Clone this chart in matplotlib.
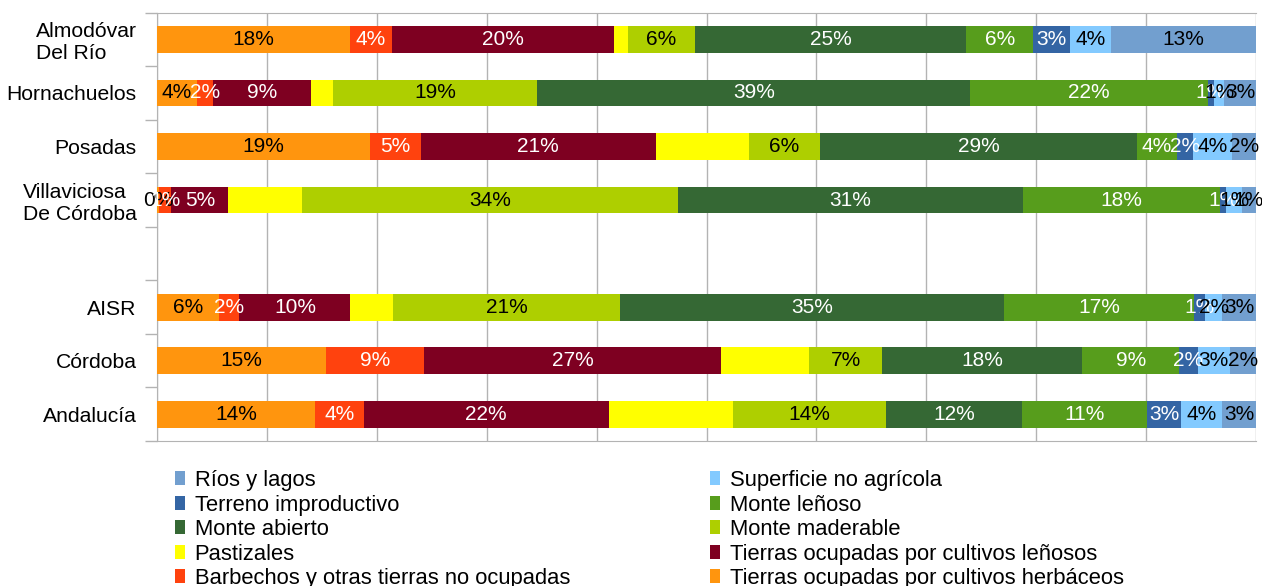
import matplotlib
matplotlib.use("Agg")
import matplotlib.pyplot as plt
from matplotlib.patches import Patch
import numpy as np

plt.rcParams['font.family'] = ['Liberation Sans', 'DejaVu Sans']

# rows top to bottom (None = empty slot)
categories = ["Almodóvar\nDel Río", "Hornachuelos", "Posadas", "Villaviciosa\nDe Córdoba",
              None, "AISR", "Córdoba", "Andalucía"]

series_names = ["Tierras ocupadas por cultivos herbáceos",
                "Barbechos y otras tierras no ocupadas",
                "Tierras ocupadas por cultivos leñosos",
                "Pastizales",
                "Monte maderable",
                "Monte abierto",
                "Monte leñoso",
                "Terreno improductivo",
                "Superficie no agrícola",
                "Ríos y lagos"]

# values (%) per series, one per non-empty category
herbaceos   = [17.6, 3.6, 19.4, 0.2, 5.6, 15.4, 14.4]
barbechos   = [3.75, 1.5, 4.6, 1.1, 1.9, 8.9, 4.4]
lenosos     = [20.2, 8.9, 21.4, 5.2, 10.1, 27.0, 22.3]
pastizales  = [1.3, 2.0, 8.5, 6.7, 3.9, 8.0, 11.3]
maderable   = [6.1, 18.6, 6.4, 34.2, 20.6, 6.7, 13.9]
abierto     = [24.7, 39.4, 28.9, 31.4, 35.0, 18.2, 12.4]
monte_len   = [6.05, 21.6, 3.6, 17.9, 17.3, 8.8, 11.4]
improduct   = [3.4, 0.6, 1.5, 0.6, 1.0, 1.7, 3.1]
no_agricola = [3.7, 0.9, 3.5, 1.4, 1.5, 2.9, 3.7]
rios        = [13.2, 2.9, 2.2, 1.3, 3.1, 2.4, 3.1]

series = [herbaceos, barbechos, lenosos, pastizales, maderable,
          abierto, monte_len, improduct, no_agricola, rios]
colors = ["#FF950E", "#FF420E", "#7E0021", "#FFFF00", "#AECF00",
          "#356834", "#579D1C", "#3465A4", "#83CAFF", "#729FCF"]
label_colors = ["black", "white", "white", None, "black",
                "white", "white", "white", "black", "black"]

fig = plt.figure(figsize=(12.62, 5.86), dpi=100)
ax = fig.add_axes([157 / 1262, 145 / 586, 1099 / 1262, 428.4 / 586])

ypos = [i for i, c in enumerate(categories) if c is not None]
ylabels = [c for c in categories if c is not None]

left = np.zeros(len(ypos))
for vals, col, lc in zip(series, colors, label_colors):
    vals = np.array(vals)
    ax.barh(ypos, vals, left=left, height=0.5, color=col, zorder=3)
    if lc is not None:
        for y, l, v in zip(ypos, left, vals):
            ax.text(l + v / 2, y, f"{round(v)}%", ha="center", va="center",
                    color=lc, fontsize=15, zorder=4)
    left += vals

ax.set_xlim(0, 100)
ax.set_ylim(len(categories) - 0.5, -0.5)
ax.set_xticks(np.arange(0, 101, 10))
ax.set_xticklabels([])
ax.tick_params(axis="x", length=0)
ax.grid(axis="x", color="#b3b3b3", linewidth=1, zorder=0)

ax.set_yticks(ypos)
ax.set_yticklabels(ylabels, fontsize=15.2, linespacing=1.2, multialignment="left")
ax.set_yticks(np.arange(-0.5, len(categories), 1), minor=True)
ax.tick_params(axis="y", which="major", length=0, pad=14.7)
ax.tick_params(axis="y", which="minor", length=9, color="#b3b3b3", width=1)

for s in ax.spines.values():
    s.set_color("#b3b3b3")
ax.spines["right"].set_visible(False)

# legend, filled row-wise in two columns, reverse series order
handles = [Patch(facecolor=c, edgecolor="none") for c in colors][::-1]
names = series_names[::-1]
left_idx = [0, 2, 4, 6, 8]
right_idx = [1, 3, 5, 7, 9]
for idx, x in [(left_idx, 175 / 1262), (right_idx, 710 / 1262)]:
    fig.legend([handles[i] for i in idx], [names[i] for i in idx],
               loc="upper left", bbox_to_anchor=(x, 1 - 470 / 586),
               frameon=False, fontsize=15.8, handlelength=0.45, handleheight=0.6,
               handletextpad=0.45, labelspacing=0.16, borderpad=0, borderaxespad=0)

fig.savefig("out.png", dpi=100)
